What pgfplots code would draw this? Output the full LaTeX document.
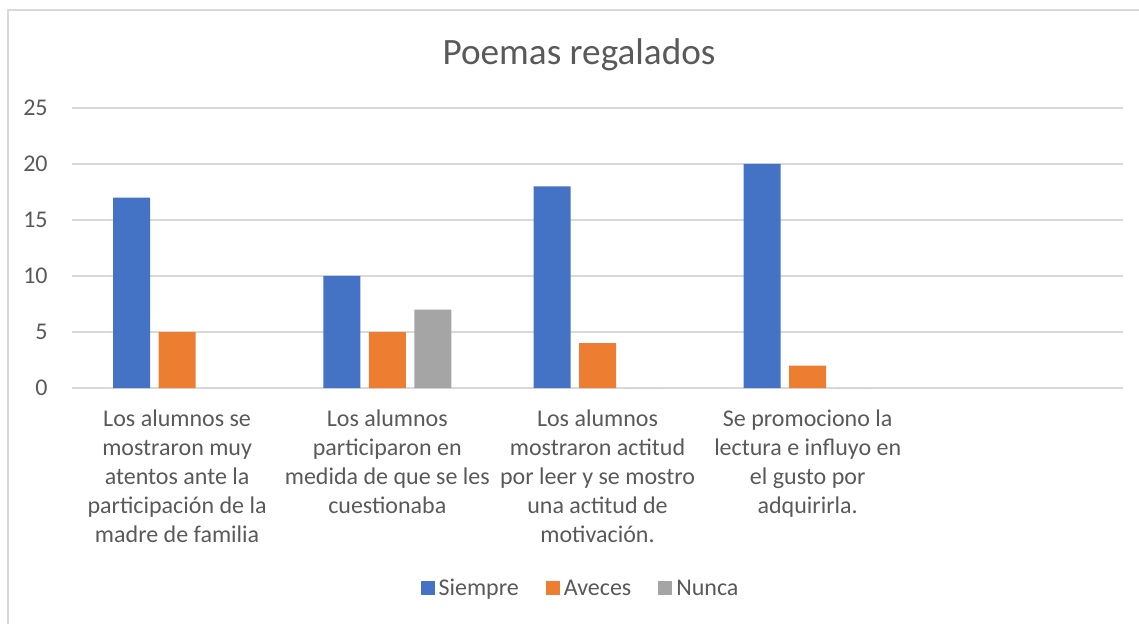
\documentclass[border=0pt]{standalone}
\usepackage{fontspec}
\setmainfont{Carlito}
\usepackage{pgfplots}
\pgfplotsset{compat=1.18}
\definecolor{siempre}{HTML}{4472C4}
\definecolor{aveces}{HTML}{ED7D31}
\definecolor{nunca}{HTML}{A5A5A5}
\definecolor{txt}{HTML}{595959}
\definecolor{gridc}{HTML}{D9D9D9}

\begin{document}
\begin{tikzpicture}
% 1 px of the reference = 0.5pt, y runs downwards
\useasboundingbox (0,0) rectangle (569.5pt,-312pt);
\draw[gridc, line width=0.9pt] (4pt,-330pt) -- (4pt,-5pt) -- (580pt,-5pt);
\node[txt, font=\fontsize{18.6}{22}\selectfont] at (289.5pt,-27.5pt) {Poemas regalados};
\begin{axis}[
  at={(36pt,-194pt)}, anchor=south west,
  scale only axis, width=525.5pt, height=140pt,
  ybar, bar width=18.5pt,
  xmin=-0.5, xmax=4.5, ymin=0, ymax=25,
  ytick={0,5,10,15,20,25},
  xtick={0,1,2,3},
  xticklabels={
    {Los alumnos se\\mostraron muy\\atentos ante la\\participación de la\\madre de familia},
    {Los alumnos\\participaron en\\medida de que se les\\cuestionaba},
    {Los alumnos\\mostraron actitud\\por leer y se mostro\\una actitud de\\motivación.},
    {Se promociono la\\lectura e influyo en\\el gusto por\\adquirirla.}},
  xticklabel style={align=center, text=txt, font=\fontsize{12}{14.5}\selectfont, yshift=-7.5pt},
  yticklabel style={text=txt, font=\fontsize{12}{14}\selectfont, inner sep=0pt, anchor=east, xshift=-12pt},
  /pgf/number format/assume math mode=true,
  major tick length=0pt,
  ymajorgrids, grid style={gridc, line width=0.6pt},
  axis x line*=bottom, axis y line*=left,
  x axis line style={gridc, line width=0.8pt, -},
  y axis line style={draw=none},
  legend style={at={(axis description cs:0.4848,-0.718)}, anchor=center, draw=none,
    font=\fontsize{12}{14}\selectfont, text=txt, legend columns=-1,
    /tikz/every even column/.append style={column sep=11.5pt}},
  legend image code/.code={\fill[#1] (0pt,-3pt) rectangle (7pt,4pt);},
]
\addplot[fill=siempre, draw=none, bar shift=-22.75pt] coordinates {(0,17) (1,10) (2,18) (3,20)};
\addplot[fill=aveces, draw=none, bar shift=0pt] coordinates {(0,5) (1,5) (2,4) (3,2)};
\addplot[fill=nunca, draw=none, bar shift=22.75pt] coordinates {(0,0) (1,7) (2,0) (3,0)};
\legend{Siempre, Aveces, Nunca}
\end{axis}
\end{tikzpicture}
\end{document}
